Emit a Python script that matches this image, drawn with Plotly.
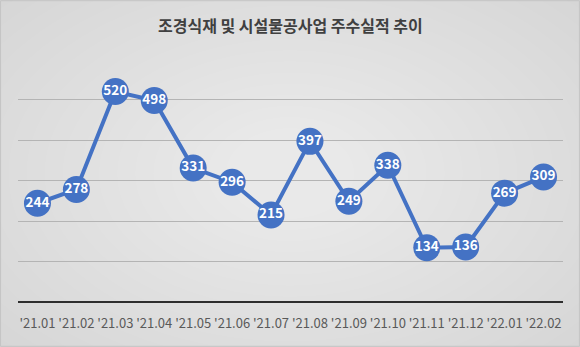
import plotly.graph_objects as go

categories = ["'21.01", "'21.02", "'21.03", "'21.04", "'21.05", "'21.06", "'21.07",
              "'21.08", "'21.09", "'21.10", "'21.11", "'21.12", "'22.01", "'22.02"]
values = [244, 278, 520, 498, 331, 296, 215, 397, 249, 338, 134, 136, 269, 309]
grid_ticks = [0, 100, 200, 300, 400, 500]

W, H = 580, 347
FONT = "Noto Sans CJK KR"
BLUE = "#4472C4"

fig = go.Figure()
fig.add_trace(go.Scatter(
    x=list(range(len(categories))), y=values,
    mode="lines+markers+text",
    line=dict(color=BLUE, width=4),
    marker=dict(size=27, color=BLUE, line=dict(width=0)),
    text=[str(v) for v in values],
    textposition="middle center",
    textfont=dict(family=FONT, size=13.5, color="white", weight="bold"),
    hoverinfo="skip",
    cliponaxis=False,
))

shapes = []
# radial-ish gradient background
n = 26
for i in range(n):
    t = i / (n - 1)
    rx = 0.78 * (1 - t) + 0.08
    ry = 0.80 * (1 - t) + 0.10
    shapes.append(dict(type="circle", xref="paper", yref="paper",
                       x0=0.5 - rx, x1=0.5 + rx, y0=0.5 - ry, y1=0.5 + ry,
                       fillcolor="white", opacity=0.045, line=dict(width=0),
                       layer="below"))
shapes.append(dict(type="rect", xref="paper", yref="paper", x0=0.001, x1=0.999,
                   y0=0.002, y1=0.998, line=dict(color="#c4c4c4", width=1),
                   fillcolor="rgba(0,0,0,0)", layer="above"))

fig.update_layout(
    width=W, height=H,
    margin=dict(l=0, r=0, t=0, b=0),
    paper_bgcolor="#cdcdcd",
    plot_bgcolor="rgba(0,0,0,0)",
    showlegend=False,
    shapes=shapes,
    annotations=[dict(text="조경식재 및 시설물공사업 주수실적 추이", xref="paper", yref="paper",
                      x=0.5, y=1 - 25 / H, xanchor="center", yanchor="middle",
                      showarrow=False,
                      font=dict(family=FONT, size=16, color="#404040", weight="bold"))],
    xaxis=dict(domain=[18 / W, 563 / W], range=[-0.5, len(categories) - 0.5],
               tickvals=list(range(len(categories))), ticktext=categories,
               showgrid=False, zeroline=False, showline=False, ticks="",
               tickfont=dict(family=FONT, size=13, color="#595959"),
               tickangle=0, ticklabelstandoff=12,
               automargin=False, fixedrange=True),
    yaxis=dict(domain=[45 / H, 287 / H], range=[0, 598],
               tickvals=grid_ticks, showticklabels=False,
               showgrid=True, gridcolor="#b4b4b4", gridwidth=1,
               zeroline=True, zerolinecolor="#2e2e2e", zerolinewidth=2,
               showline=False, ticks="", automargin=False, fixedrange=True),
)

fig.write_html("out.html")
